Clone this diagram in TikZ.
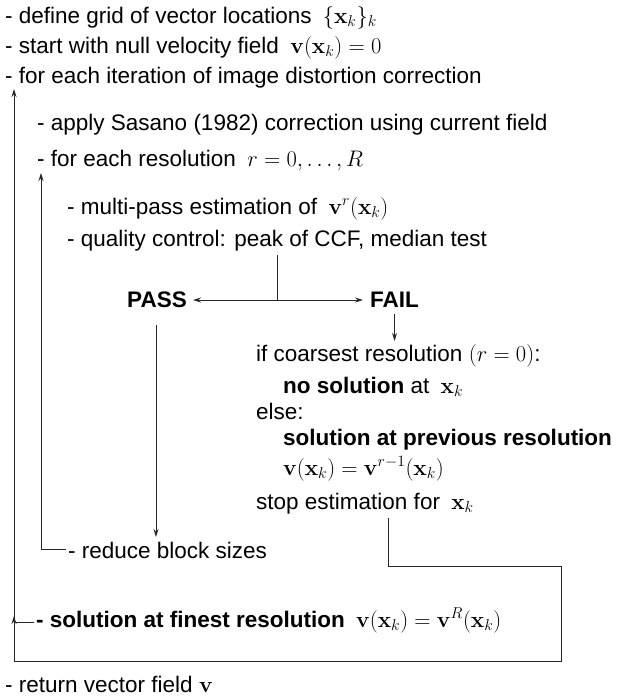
\RequirePackage{fix-cm}
\documentclass[tikz,border=0pt]{standalone}
\usepackage[no-math]{fontspec}
\setmainfont{Liberation Sans}
\usetikzlibrary{arrows.meta}
\begin{document}
\begin{tikzpicture}[x=1pt,y=-1pt,
  txt/.style={anchor=base west, inner sep=0pt, font=\fontsize{22.5}{27}\selectfont},
  btxt/.style={txt, font=\fontsize{22.5}{27}\selectfont\bfseries},
  ln/.style={line width=1pt, draw=black!85},
  arr/.style={ln, -{Stealth[length=8pt,width=5pt]}}]
\useasboundingbox (0,0) rectangle (625,697);
% texts
\node[txt] (l1) at (5,23) {- define grid of vector locations\enspace$\{\mathbf{x}_k\}_k$};
\node[txt] (l2) at (5,53) {- start with null velocity field\enspace$\mathbf{v}(\mathbf{x}_k)=0$};
\node[txt] (l3) at (5,83) {- for each iteration of image distortion correction};
\node[txt] (l4) at (37,130) {- apply Sasano (1982) correction using current field};
\node[txt] (l5) at (37,166) {- for each resolution\enspace$r=0,\ldots,R$};
\node[txt] (l6) at (67,214) {- multi-pass estimation of\enspace$\mathbf{v}^r(\mathbf{x}_k)$};
\node[txt] (l7) at (67,246) {- quality control: peak of CCF, median test};
\node[btxt] (pass) at (127,307) {PASS};
\node[btxt] (fail) at (370,307) {FAIL};
\node[txt] (if) at (256,361) {if coarsest resolution $(r=0)$:};
\node[txt] (nosol) at (283,393) {\textbf{no solution} at\enspace$\mathbf{x}_k$};
\node[txt] (else) at (256,419) {else:};
\node[btxt] (prev) at (283,445) {solution at previous resolution};
\node[txt] (vprev) at (283,475) {$\mathbf{v}(\mathbf{x}_k)=\mathbf{v}^{r-1}(\mathbf{x}_k)$};
\node[txt] (stop) at (256,509) {stop estimation for\enspace$\mathbf{x}_k$};
\node[txt] (reduce) at (68,558) {- reduce block sizes};
\node[txt] (finest) at (36,627) {\textbf{- solution at finest resolution}\enspace$\mathbf{v}(\mathbf{x}_k)=\mathbf{v}^R(\mathbf{x}_k)$};
\node[txt] (ret) at (5,692) {- return vector field $\mathbf{v}$};
% coordinates
\coordinate (jt) at (277,255);
\coordinate (j) at (277,300);
\coordinate (pt) at (156,325);
\coordinate (pe) at (156,537);
\coordinate (it) at (41,173);
\coordinate (ic) at (41,552);
\coordinate (s1) at (388,518);
\coordinate (s2) at (388,566);
\coordinate (rb) at (561,661);
\coordinate (ot) at (14,89);
\coordinate (fh) at (14,622);
\coordinate (fa) at (14,628);
\coordinate (fb) at (14,616);
% connectors
\draw[ln] (jt) -- (j);
\draw[arr] (j) -- ([xshift=6pt]j -| pass.east);
\draw[arr] (j) -- ([xshift=-7pt]j -| fail.west);
\draw[arr] ([yshift=-7pt]fail.south) -- ([yshift=3pt]fail.south |- if.north);
\draw[arr] (pt) -- (pe);
\draw[arr] ([xshift=-2pt]reduce.west) -- (reduce.west -| ic) -- (it);
\draw[arr] (s1) -- (s2) -| (rb) -| (ot);
\draw[ln] ([xshift=-2pt]finest.west |- fh) -- (fh);
\draw[arr] (fa) -- (fb);
\end{tikzpicture}
\end{document}
